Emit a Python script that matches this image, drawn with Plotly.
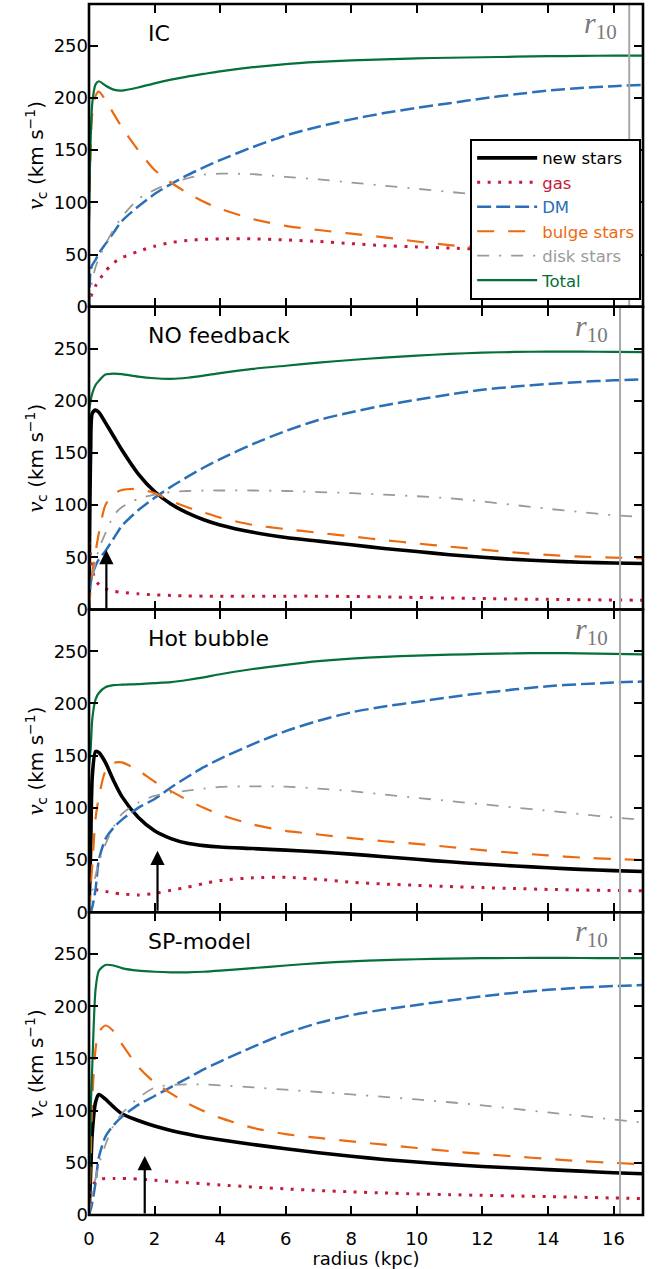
import plotly.graph_objects as go
from plotly.subplots import make_subplots

# radius grid (kpc)
R = [0, 0.05, 0.1, 0.2, 0.3, 0.5, 0.75, 1.0, 1.5, 2.0, 2.5, 3.0, 3.5, 4, 5, 6, 7, 8, 9, 10,
     11, 12, 13, 14, 15, 16, 16.9]

panel_names = ["IC", "NO feedback", "Hot bubble", "SP-model"]

# ---- IC ----
ic_total = [85, 160, 195, 213, 216, 212, 208, 207, 210, 214, 217.5, 220.5, 223, 225.5, 229.5, 232.5, 234.5, 236, 237, 238,
            238.5, 239, 239.5, 240, 240.3, 240.5, 240.5]
ic_dm = [0, 35, 40, 45, 51, 60, 71, 82, 96, 108, 117.5, 126, 133.5, 140.5, 153, 164, 172.5, 179.5, 185.5, 190.5,
         195, 199.5, 203.5, 207, 209.5, 211.3, 212.5]
ic_bulge = [80, 150, 185, 202, 206, 198, 185, 172, 150, 131, 119, 109, 100.5, 94, 84, 77.5, 73.5, 70, 66.5, 62.5,
            59, 56.5, 54, 52, 50.5, 49, 48]
ic_disk = [0, 15, 25, 38, 46, 60, 74, 86, 103, 112, 118.5, 123, 126.5, 127.5, 127, 124.5, 122, 119, 116, 113,
           110, 107, 104, 101, 98, 95, 92]
ic_gas = [0, 9, 13, 20, 25, 34, 42, 47, 53, 58, 61.5, 63.5, 64.5, 65, 65, 64, 62.5, 60.5, 58.5, 57.3,
          56.2, 55, 53.5, 52, 50.5, 49, 48]

# ---- NO feedback ----
nf_total = [190, 200, 207, 215, 219, 225, 226, 225.5, 223, 221.5, 221, 222, 224, 226.5, 230.5, 233.5, 236.5, 239, 241.3, 243.2,
            244.8, 246, 246.7, 247, 247, 246.8, 246.5]
nf_new = [0, 150, 188, 191, 189, 179, 166, 153, 130, 113, 101, 92.5, 86, 81, 74, 69, 65.5, 62, 58.5, 55.5,
          52.5, 50, 48, 46.5, 45.3, 44.5, 44]
nf_dm = [0, 25, 33, 42, 48, 56, 68, 80, 95, 107, 117.5, 127, 136, 144, 158.5, 171, 181.5, 189, 195.5, 201,
         206, 210.5, 213.5, 216, 218, 219.5, 220.5]
nf_bulge = [0, 20, 35, 55, 73, 100, 110.5, 114.5, 115.5, 111.5, 104, 98, 93, 88, 81, 77, 73.5, 70, 66.5, 63.3,
            60.2, 57.3, 54.6, 52.3, 50.7, 49.6, 49]
nf_disk = [0, 20, 30, 45, 58, 73, 90, 98, 106, 110, 112.5, 113.5, 114, 114, 114, 113.5, 112.5, 111.5, 110, 108.5,
           106.5, 103.5, 100, 96.5, 93.3, 90.3, 88.5]
nf_gas = [65, 50, 38, 28, 24, 20, 17.5, 16.5, 15, 14, 13.5, 13, 12.8, 12.8, 12.8, 12.8, 12.8, 12.5, 12, 11.5,
          11, 10.5, 10, 9.7, 9.4, 9.1, 8.9]

# ---- Hot bubble ----
hb_total = [140, 156, 185, 204, 210, 215.5, 217.5, 218, 218.5, 219.5, 220.5, 222.5, 225, 228, 233, 237, 240.5, 243, 244.7, 245.8,
            246.7, 247.4, 248, 248.2, 248, 247.5, 247]
hb_new = [0, 60, 130, 154, 153, 143.5, 126, 111, 91, 78, 70.5, 66, 63.8, 62.5, 61, 59.5, 57.8, 55.7, 53.2, 50.7,
          48.3, 46.2, 44.3, 42.6, 41.1, 39.9, 39]
hb_dm = [0, 0, 5, 22, 50, 70, 81, 88.5, 100, 108.5, 119.5, 129.5, 139, 147, 161, 173.5, 183.5, 191.5, 197, 201.5,
         206, 210, 213.5, 216.5, 218.5, 220, 221]
hb_bulge = [0, 25, 45, 90, 110, 135, 143, 143.5, 136, 125, 116, 107.5, 100, 93.5, 84, 78, 74.5, 71, 68, 65.5,
            62.5, 59.5, 56.8, 54.4, 52.4, 51, 50]
hb_disk = [0, 10, 20, 35, 48, 65, 82, 94, 105, 111.5, 114.5, 116.5, 118.5, 120, 120.6, 120.3, 118.5, 116, 112.8, 109.6,
           106.5, 103.4, 100.3, 97.2, 94, 90.8, 88.5]
hb_gas = [30, 28, 25, 22, 21, 20, 18.5, 17.5, 16.5, 18, 21, 24, 27.5, 30.5, 33, 33.5, 31.5, 28.8, 27, 25.8,
          24.6, 23.6, 22.7, 21.9, 21.3, 20.8, 20.5]

# ---- SP-model ----
sp_total = [20, 100, 143, 216, 234, 239.5, 239, 236.5, 234, 233, 232.5, 232.5, 233, 234, 236.5, 239, 241.3, 243, 244.1, 245,
            245.5, 246, 246.2, 246.3, 246.2, 246, 246]
sp_new = [0, 40, 79, 108, 115.5, 111, 103.5, 97, 90.5, 85.2, 81, 77.5, 74.5, 72, 67.5, 63.5, 59.7, 56.3, 53.2, 50.7,
          48.5, 46.5, 45, 43.5, 42, 40.5, 39.5]
sp_dm = [0, 5, 12, 31, 55, 75, 86, 94, 105.5, 114, 122.5, 131, 139.5, 147, 161, 174, 184, 191.5, 196.8, 201.2,
         205.5, 209.5, 213, 215.7, 217.8, 219.3, 220.2]
sp_bulge = [0, 50, 111, 159, 175, 181.5, 176, 164, 142, 127, 116.5, 107, 99.5, 93, 83.5, 77.5, 73.8, 70.5, 67.4, 64.2,
            61.2, 58.5, 56, 53.7, 51.6, 50, 48.5]
sp_disk = [0, 10, 20, 35, 48, 67, 86, 97, 112, 122, 124.5, 125.2, 125, 124.2, 122.3, 120, 117.8, 115.5, 113.2, 110.7,
           108, 105, 101.6, 98.3, 95, 91.5, 88.5]
sp_gas = [0, 20, 28, 32, 34, 35, 35, 35, 34.5, 33.3, 32, 31, 30, 28.8, 26.8, 25, 23.5, 22.2, 21.1, 20.2,
          19.5, 18.8, 18.2, 17.6, 17, 16.3, 15.8]

# vertical r10 marker and arrow positions per panel
R10 = [16.48, 16.2, 16.2, 16.2]
ARROW_X = [None, 0.53, 2.09, 1.70]
ARROW_TOP = [None, 57, 59, 56.5]

panels = [
    dict(new=None, gas=ic_gas, dm=ic_dm, bulge=ic_bulge, disk=ic_disk, total=ic_total),
    dict(new=nf_new, gas=nf_gas, dm=nf_dm, bulge=nf_bulge, disk=nf_disk, total=nf_total),
    dict(new=hb_new, gas=hb_gas, dm=hb_dm, bulge=hb_bulge, disk=hb_disk, total=hb_total),
    dict(new=sp_new, gas=sp_gas, dm=sp_dm, bulge=sp_bulge, disk=sp_disk, total=sp_total),
]

C_BLACK = "#000000"
C_GAS = "#c41a3b"
C_DM = "#2a6fb8"
C_BULGE = "#ec6a10"
C_DISK = "#9a9a9a"
C_TOTAL = "#05703a"

styles = {
    "new": dict(label="new stars", color=C_BLACK, width=3.6, dash="solid"),
    "gas": dict(label="gas", color=C_GAS, width=3, dash="3px,7.5px"),
    "dm": dict(label="DM", color=C_DM, width=2.5, dash="14px,5px"),
    "bulge": dict(label="bulge stars", color=C_BULGE, width=2.2, dash="17px,14px"),
    "disk": dict(label="disk stars", color=C_DISK, width=1.8, dash="12px,10px,2px,10px"),
    "total": dict(label="Total", color=C_TOTAL, width=2.2, dash="solid"),
}
order = ["new", "gas", "dm", "bulge", "disk", "total"]

fig = make_subplots(rows=4, cols=1, shared_xaxes=True, vertical_spacing=0)

for i, p in enumerate(panels):
    row = i + 1
    for key in order:
        st = styles[key]
        y = p[key]
        if y is None:
            continue
        name = st["label"] if key == "new" else f"<span style='color:{st['color']}'>{st['label']}</span>"
        fig.add_trace(go.Scatter(
            x=R, y=y, mode="lines", name=name,
            line=dict(color=st["color"], width=st["width"], dash=st["dash"], shape="spline", smoothing=0.7),
            showlegend=(row == 2), legendrank=order.index(key) + 1,
        ), row=row, col=1)

axis_font = dict(family="DejaVu Sans", size=18, color="black")
for i in range(4):
    row = i + 1
    fig.update_xaxes(range=[0, 16.9], dtick=2, tick0=0, ticks="inside", ticklen=9, tickwidth=1.5,
                     tickcolor="black", showline=False, mirror="ticks",
                     showgrid=False, zeroline=False, showticklabels=(row == 4), tickfont=axis_font,
                     ticklabelstandoff=11, row=row, col=1)
    fig.update_yaxes(range=[0, 290], tickvals=[0, 50, 100, 150, 200, 250], ticks="inside", ticklen=9,
                     tickwidth=1.5, tickcolor="black", showline=False,
                     mirror="ticks", showgrid=False, zeroline=False, tickfont=axis_font,
                     title=dict(text="<span style='font-family:Liberation Serif;font-size:24px'><i>v</i></span><sub>c</sub> (km s<sup>−1</sup>)",
                                font=dict(family="DejaVu Sans", size=20, color="black"), standoff=4),
                     row=row, col=1)

fig.update_xaxes(title=dict(text="radius (kpc)", font=dict(family="DejaVu Sans", size=18, color="black"),
                            standoff=0), row=4, col=1)

anns = []
shapes = []
for i in range(4):
    xr = "x" if i == 0 else f"x{i+1}"
    yr = "y" if i == 0 else f"y{i+1}"
    anns.append(dict(text=panel_names[i], xref=f"{xr} domain", yref=f"{yr} domain", x=0.103, y=0.904,
                     xanchor="left", yanchor="middle", showarrow=False,
                     font=dict(family="DejaVu Sans", size=22, color="black")))
    anns.append(dict(text="<i>r</i><sub>10</sub>", xref=xr, yref=f"{yr} domain", x=R10[i] - 0.3, y=1.0,
                     xanchor="right", yanchor="top", showarrow=False,
                     font=dict(family="Liberation Serif", size=30, color="#7a7a7a")))
    shapes.append(dict(type="line", xref=xr, yref=f"{yr} domain", x0=R10[i], x1=R10[i], y0=0, y1=1,
                       line=dict(color="#a8a8a8", width=2), layer="above"))
    shapes.append(dict(type="rect", xref=f"{xr} domain", yref=f"{yr} domain", x0=0, x1=1, y0=0, y1=1,
                       line=dict(color="black", width=2.6), layer="above"))
    if ARROW_X[i] is not None:
        anns.append(dict(text="", xref=xr, yref=yr, x=ARROW_X[i], y=ARROW_TOP[i],
                         axref=xr, ayref=yr, ax=ARROW_X[i], ay=0, showarrow=True,
                         arrowhead=2, arrowsize=1.3, arrowwidth=2.2, arrowcolor="black"))

fig.update_layout(
    width=659, height=1269,
    margin=dict(l=89, r=16, t=4, b=54),
    plot_bgcolor="white", paper_bgcolor="white",
    font=dict(family="DejaVu Sans", size=18, color="black"),
    annotations=anns, shapes=shapes,
    legend=dict(x=0.688, y=0.8888, xanchor="left", yanchor="top", bgcolor="white",
                bordercolor="black", borderwidth=2, font=dict(family="DejaVu Sans", size=16.5),
                tracegroupgap=0, itemwidth=60),
)

fig.write_html("out.html")
